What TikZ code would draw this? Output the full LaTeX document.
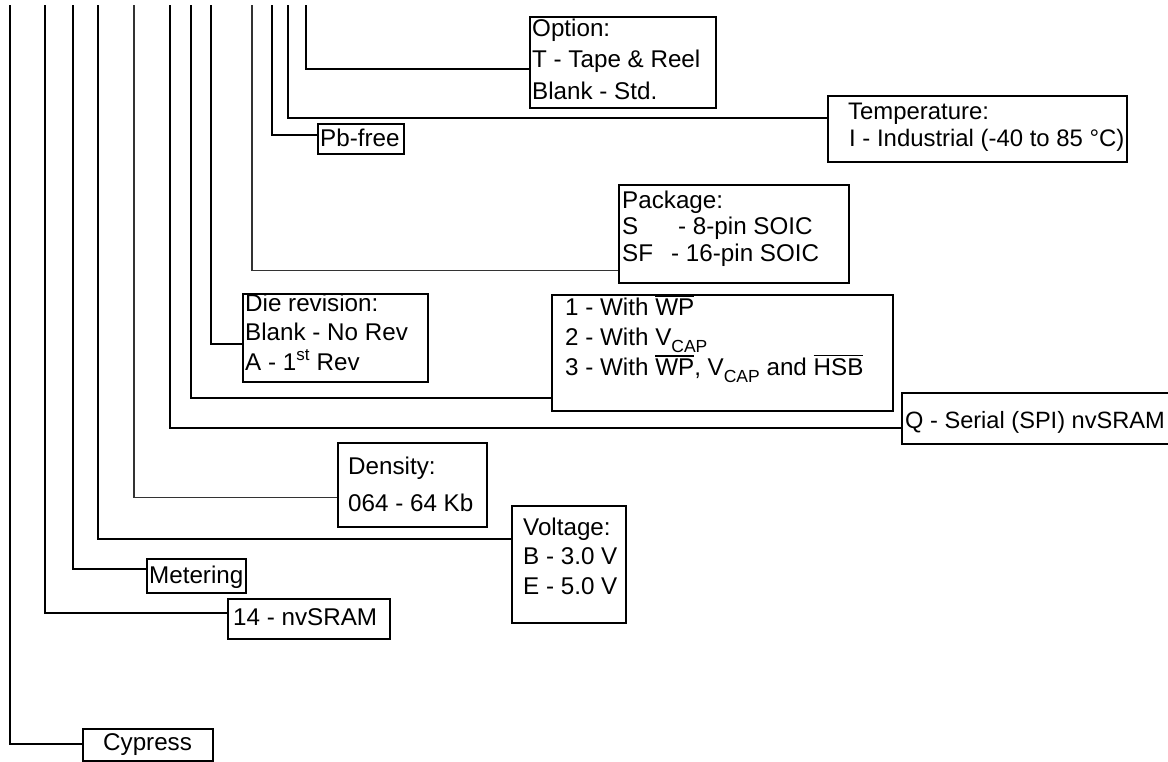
\documentclass[tikz,border=0pt]{standalone}
\usepackage{fontspec}
\setmainfont{Liberation Sans}
\newcommand\myol[1]{\vbox{\hrule height 1.3pt\kern1.8pt\hbox{#1}}}
\newcommand\mysub[1]{\raisebox{-7pt}{\fontsize{17.5}{17.5}\selectfont #1}}
\tikzset{
  wire/.style={line width=1.7pt, line join=miter},
  thinwire/.style={line width=1.1pt, black!80, line join=miter},
  box/.style={draw, line width=1.7pt, inner sep=0pt, anchor=north west},
  txt/.style={inner sep=0pt, anchor=base west, font=\fontsize{24.2}{30}\selectfont},
}
\begin{document}
\begin{tikzpicture}[x=1pt,y=-1pt]
\useasboundingbox (0,0) rectangle (1168,761);
% top ends of the leads
\coordinate (vA) at (10,5);
\coordinate (vB) at (45,5);
\coordinate (vC) at (73,5);
\coordinate (vD) at (98,5);
\coordinate (vE) at (134,5);
\coordinate (vF) at (170,5);
\coordinate (vG) at (191,5);
\coordinate (vH) at (211,5);
\coordinate (vI) at (252,5);
\coordinate (vJ) at (272,5);
\coordinate (vK) at (288,5);
\coordinate (vL) at (306,5);
% boxes
\node[box, minimum width=186pt, minimum height=91pt] (opt) at (529,16) {};
\node[box, minimum width=299pt, minimum height=66pt] (tmp) at (827,95) {};
\node[box, minimum width=86pt, minimum height=30pt] (pbf) at (317,123) {};
\node[box, minimum width=230pt, minimum height=98pt] (pkg) at (618,184) {};
\node[box, minimum width=185pt, minimum height=88pt] (die) at (242,293) {};
\node[box, minimum width=341pt, minimum height=116pt] (wth) at (551,294) {};
\node[box, minimum width=280pt, minimum height=51pt] (ser) at (901,392) {};
\node[box, minimum width=149pt, minimum height=84pt] (den) at (337,442) {};
\node[box, minimum width=114pt, minimum height=117pt] (vol) at (511,505) {};
\node[box, minimum width=99pt, minimum height=34pt] (met) at (146,558) {};
\node[box, minimum width=162pt, minimum height=40pt] (nvs) at (227,598) {};
\node[box, minimum width=130pt, minimum height=32pt] (cyp) at (82,728) {};
% texts
\node[txt, font=\fontsize{24.2}{31.5}\selectfont] (optT) at (532,36)
  {\begin{tabular}[t]{@{}l@{}}Option:\\T - Tape \& Reel\\Blank - Std.\end{tabular}};
\node[txt, font=\fontsize{23.9}{27}\selectfont] (tmpT) at (848,119)
  {\begin{tabular}[t]{@{}l@{}}Temperature:\\\hspace{1pt}I - Industrial (-40 to 85 °C)\end{tabular}};
\node[txt] (pbfT) at (320,146) {Pb-free};
\node[txt, font=\fontsize{24.2}{26.5}\selectfont] (pkgT) at (622,208)
  {\begin{tabular}[t]{@{}l@{}}Package:\\\makebox[56pt][l]{S}- 8-pin SOIC\\\makebox[49pt][l]{SF}- 16-pin SOIC\end{tabular}};
\node[txt, font=\fontsize{24.2}{29.5}\selectfont] (dieT) at (245,311)
  {\begin{tabular}[t]{@{}l@{}}Die revision:\\Blank - No Rev\\A - 1\textsuperscript{st} Rev\end{tabular}};
\node[txt, font=\fontsize{24.2}{30}\selectfont] (wthT) at (565,315)
  {\begin{tabular}[t]{@{}l@{}}1 - With \myol{WP}\\2 - With V\mysub{CAP}\\3 - With \myol{WP}, V\mysub{CAP} and \myol{HSB}\end{tabular}};
\node[txt, font=\fontsize{23.6}{30}\selectfont] (serT) at (905,428) {Q - Serial (SPI) nvSRAM};
\node[txt, font=\fontsize{24.2}{37}\selectfont] (denT) at (348,474)
  {\begin{tabular}[t]{@{}l@{}}Density:\\064 - 64 Kb\end{tabular}};
\node[txt, font=\fontsize{24.2}{29.5}\selectfont] (volT) at (523,535)
  {\begin{tabular}[t]{@{}l@{}}Voltage:\\B - 3.0 V\\E - 5.0 V\end{tabular}};
\node[txt] (metT) at (149,583) {Metering};
\node[txt] (nvsT) at (233,625) {14 - nvSRAM};
\node[txt] (cypT) at (103,750) {Cypress};
% leads
\draw[wire] (vL) |- ([yshift=-6.5pt]opt.west);
\draw[wire] (vK) |- ([yshift=11pt]tmp.west);
\draw[wire] (vJ) |- ([yshift=4pt]pbf.west);
\draw[thinwire] (vI) |- ([yshift=-37pt]pkg.west);
\draw[wire] (vH) |- ([yshift=-6pt]die.west);
\draw[wire] (vG) |- ([yshift=-45pt]wth.west);
\draw[wire] (vF) |- ([yshift=-9.5pt]ser.west);
\draw[thinwire] (vE) |- ([yshift=-13pt]den.west);
\draw[wire] (vD) |- ([yshift=25.5pt]vol.west);
\draw[wire] (vC) |- ([yshift=7pt]met.west);
\draw[wire] (vB) |- ([yshift=6pt]nvs.west);
\draw[wire] (vA) |- ([yshift=1pt]cyp.west);
\end{tikzpicture}
\end{document}
